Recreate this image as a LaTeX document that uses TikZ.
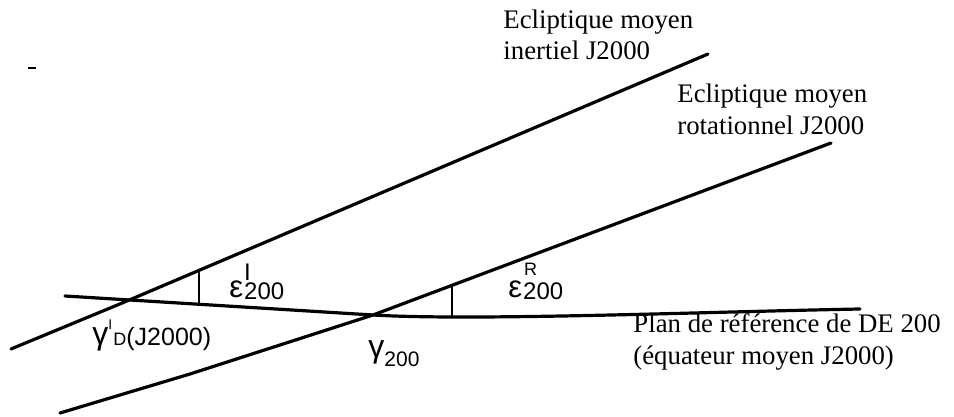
\documentclass[tikz,border=0pt]{standalone}
\usepackage{fontspec}
\setmainfont{Liberation Serif}
\newfontfamily\sansgr{Liberation Sans}
\begin{document}
\begin{tikzpicture}[x=0.5pt,y=-0.5pt,
  plane/.style={line width=1.6pt,line cap=round,line join=round},
  anglemark/.style={line width=1pt},
  lab/.style={inner sep=0pt,anchor=base west,align=left,font=\fontsize{13.4}{15.8}\selectfont},
  sym/.style={inner sep=0pt,anchor=base west}]
\useasboundingbox (0,0) rectangle (954,417);
% key points
\coordinate (inL) at (11,349);
\coordinate (gI) at (127,301);
\coordinate (inR) at (708,54);
\coordinate (roL) at (60,413);
\coordinate (roK) at (190,374);
\coordinate (g200) at (373,315);
\coordinate (roR) at (831,143);
\coordinate (eqL) at (65,296);
\coordinate (eqR) at (860,309);
\coordinate (aIb) at (199,305);
\coordinate (aIt) at (199,270);
\coordinate (aRb) at (452,317);
\coordinate (aRt) at (452,286);
\coordinate (dashL) at (28,68);
\coordinate (dashR) at (36,68);
% planes
\draw[plane] (inL) -- (gI) -- (inR);
\draw[plane] (roL) -- (roK) -- (g200) -- (roR);
\draw[plane] (eqL) -- (g200) .. controls (473,321) and (700,312) .. (eqR);
% angle marks
\draw[anglemark] (aIb) -- (aIt);
\draw[anglemark] (aRb) -- (aRt);
% stray mark
\draw[line width=0.9pt] (dashL) -- (dashR);
% labels (anchor = baseline of last line)
\node[lab] (lin) at (503,60) {Ecliptique moyen\\inertiel J2000};
\node[lab] (lro) at (677,134) {Ecliptique moyen\\rotationnel J2000};
\node[lab] (leq) at (633,364) {Plan de référence de DE 200\\(équateur moyen J2000)};
% epsilon I
\node[sym] (eI) at (229,297) {\sansgr\fontsize{15.5}{15.5}\selectfont ε\kern0.5pt\rlap{\fontsize{12}{12}\selectfont\raisebox{8.5pt}{I}}\fontsize{12}{12}\selectfont\raisebox{-1.5pt}{200}};
% epsilon R
\node[sym] (eR) at (508,297) {\sansgr\fontsize{15.5}{15.5}\selectfont ε\kern1pt\rlap{\fontsize{9}{9}\selectfont\raisebox{10.5pt}{R}}\kern-0.5pt\fontsize{12}{12}\selectfont\raisebox{-1.5pt}{200}};
% gamma I D
\node[sym] (gIl) at (92,344) {\sansgr\fontsize{16}{16}\selectfont γ\rlap{\fontsize{7}{7}\selectfont\raisebox{7.5pt}{I}}\kern2.5pt\fontsize{9}{9}\selectfont\raisebox{-0.5pt}{D}\fontsize{12.5}{12.5}\selectfont\raisebox{-0.5pt}{(J2000)}};
% gamma 200
\node[sym] (g200l) at (368,357) {\sansgr\fontsize{16}{16}\selectfont γ\fontsize{10.5}{10.5}\selectfont\raisebox{-5pt}{200}};
\end{tikzpicture}
\end{document}
